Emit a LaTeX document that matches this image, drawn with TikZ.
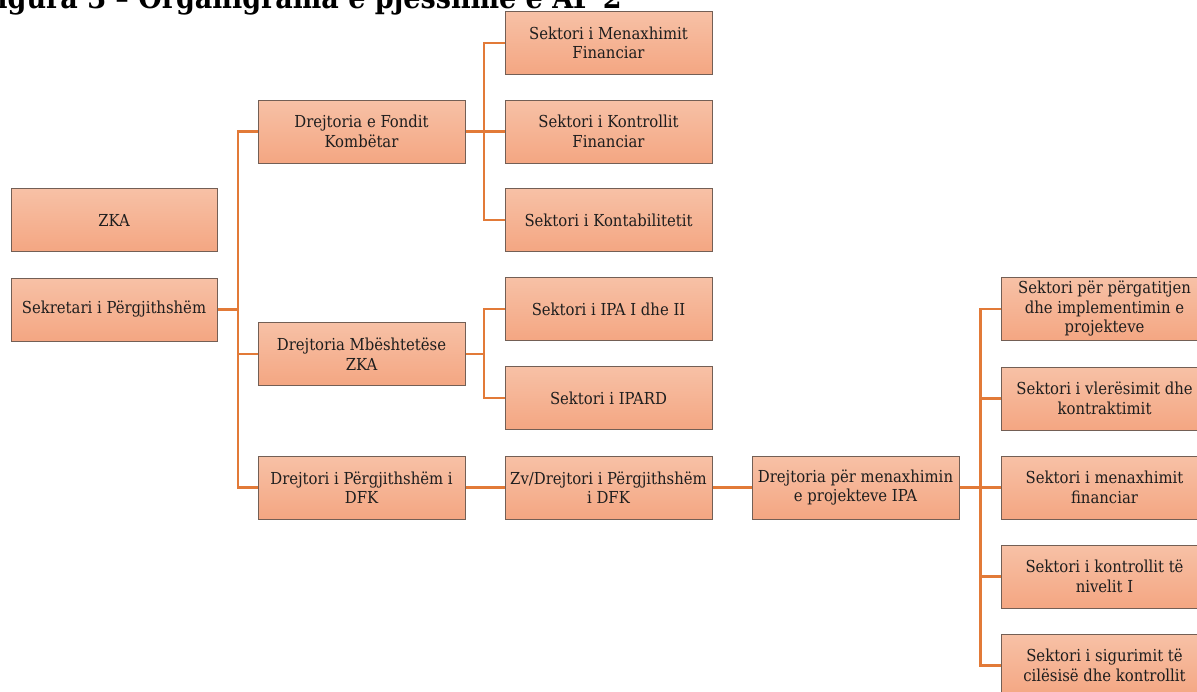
\documentclass[tikz,border=0pt]{standalone}
\usepackage{fontspec}
\setmainfont{DejaVu Serif Condensed}
\usetikzlibrary{shadings}
\definecolor{boxtop}{RGB}{247,193,166}
\definecolor{boxbot}{RGB}{244,166,130}
\definecolor{boxline}{RGB}{115,95,85}
\definecolor{conncol}{RGB}{226,122,56}
\definecolor{txt}{RGB}{30,30,30}
\begin{document}
\begin{tikzpicture}[x=1pt,y=-1pt,
  orgbox/.style={rectangle, draw=boxline, line width=1pt, top color=boxtop, bottom color=boxbot,
    minimum width=207pt, minimum height=63pt, inner sep=1pt, align=center, text=txt,
    font=\fontsize{16.5}{19.5}\selectfont},
  conn/.style={draw=conncol, line width=2.6pt}]
\useasboundingbox (0,0) rectangle (1197,691);
% title (cut at the top)
\node[anchor=base east, font=\bfseries\fontsize{30}{34}\selectfont, text=black, inner sep=0pt] (title) at (622,8) {Figura 3 – Organigrama e pjesshme e AP 2};
% boxes
\node[orgbox, minimum width=206pt] (zka) at (114,220) {ZKA};
\node[orgbox, minimum width=206pt] (sekr) at (114,309.5) {Sekretari i Përgjithshëm};
\node[orgbox] (df) at (361.5,131.5) {Drejtoria e Fondit\\Kombëtar};
\node[orgbox] (dm) at (361.5,354) {Drejtoria Mbështetëse\\ZKA};
\node[orgbox] (dp) at (361.5,487.5) {Drejtori i Përgjithshëm i\\DFK};
\node[orgbox] (smf) at (608.5,43) {Sektori i Menaxhimit\\Financiar};
\node[orgbox] (skf) at (608.5,131.5) {Sektori i Kontrollit\\Financiar};
\node[orgbox] (sk) at (608.5,220) {Sektori i Kontabilitetit};
\node[orgbox] (sipa) at (608.5,309) {Sektori i IPA I dhe II};
\node[orgbox] (sipard) at (608.5,398) {Sektori i IPARD};
\node[orgbox] (zv) at (608.5,487.5) {Zv/Drejtori i Përgjithshëm\\i DFK};
\node[orgbox] (dpm) at (855.5,487.5) {Drejtoria për menaxhimin\\e projekteve IPA};
\node[orgbox] (r1) at (1104.5,309) {Sektori për përgatitjen\\dhe implementimin  e\\projekteve};
\node[orgbox] (r2) at (1104.5,398.5) {Sektori i vlerësimit dhe\\kontraktimit};
\node[orgbox] (r3) at (1104.5,487.5) {Sektori i menaxhimit\\financiar};
\node[orgbox] (r4) at (1104.5,576.5) {Sektori i kontrollit të\\nivelit I};
\node[orgbox] (r5) at (1104.5,665.5) {Sektori i sigurimit të\\cilësisë dhe kontrollit};
% bus coordinates
\coordinate (b1) at (238,0);
\coordinate (b2) at (484,0);
\coordinate (b3) at (980.5,0);
% connectors
\draw[conn] (sekr.east) -- (b1 |- sekr.east);
\draw[conn] (df.west) -- (b1 |- df.west) -- (b1 |- dp.west) -- (dp.west);
\draw[conn] (b1 |- dm.west) -- (dm.west);
\draw[conn] (df.east) -- (b2 |- df.east);
\draw[conn] (smf.west) -- (b2 |- smf.west) -- (b2 |- sk.west) -- (sk.west);
\draw[conn] (b2 |- skf.west) -- (skf.west);
\draw[conn] (dm.east) -- (b2 |- dm.east);
\draw[conn] (sipa.west) -- (b2 |- sipa.west) -- (b2 |- sipard.west) -- (sipard.west);
\draw[conn] (dp.east) -- (zv.west);
\draw[conn] (zv.east) -- (dpm.west);
\draw[conn] (dpm.east) -- (b3 |- dpm.east);
\draw[conn] (r1.west) -- (b3 |- r1.west) -- (b3 |- r5.west) -- (r5.west);
\draw[conn] (b3 |- r2.west) -- (r2.west);
\draw[conn] (b3 |- r3.west) -- (r3.west);
\draw[conn] (b3 |- r4.west) -- (r4.west);
\end{tikzpicture}
\end{document}
